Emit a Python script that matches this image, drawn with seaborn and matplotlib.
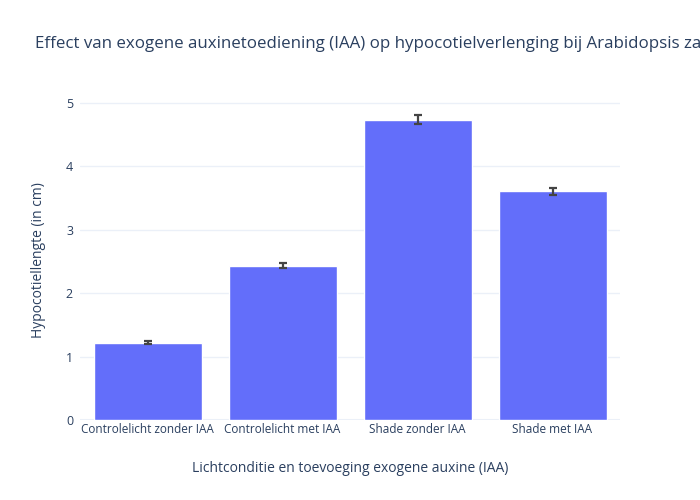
import matplotlib
matplotlib.use("Agg")
import matplotlib.pyplot as plt
import seaborn as sns
import pandas as pd

# values
conditions = ["Controlelicht zonder IAA", "Controlelicht met IAA",
              "Shade zonder IAA", "Shade met IAA"]
lengths = [1.22, 2.43, 4.73, 3.60]
errors = [0.02, 0.04, 0.07, 0.05]

title = "Effect van exogene auxinetoediening (IAA) op hypocotielverlenging bij Arabidopsis zaailingen"
xlabel = "Lichtconditie en toevoeging exogene auxine (IAA)"
ylabel = "Hypocotiellengte (in cm)"
yticks = [0, 1, 2, 3, 4, 5]

sns.set_theme(style="white")
plt.rcParams['font.family'] = ['Open Sans', 'DejaVu Sans']
text_col = "#2a3f5f"

df = pd.DataFrame({"conditie": conditions, "lengte": lengths, "fout": errors})

fig = plt.figure(figsize=(7, 5), dpi=100)
ax = fig.add_axes([80/700, 80/500, 540/700, 320/500])

sns.barplot(data=df, x="conditie", y="lengte", color="#636EFA", saturation=1,
            width=0.8, errorbar=None, ax=ax, zorder=2)
ax.errorbar(range(len(conditions)), df["lengte"], yerr=df["fout"], fmt="none",
            ecolor="#444444", elinewidth=1.6, capsize=3, capthick=1.6, zorder=3)

ax.set_ylim(0, 5.04)
ax.set_xlim(-0.5, 3.5)
ax.set_yticks(yticks)
ax.grid(axis="y", color="#EBF0F8", linewidth=1, zorder=0)
ax.set_axisbelow(True)
for s in ax.spines.values():
    s.set_visible(False)
ax.axhline(0, color="#EBF0F8", linewidth=1.5, zorder=1)

ax.tick_params(axis="x", length=0, labelsize=8.5, colors=text_col, pad=2)
ax.tick_params(axis="y", length=0, labelsize=9, colors=text_col, pad=5)
ax.set_xlabel(xlabel, fontsize=10, color=text_col, labelpad=18)
ax.set_ylabel(ylabel, fontsize=10, color=text_col, labelpad=14)

fig.text(35/700, 1 - 44/500, title, fontsize=12.2, color=text_col,
         ha="left", va="center")

fig.savefig("out.png", dpi=100, facecolor="white")
